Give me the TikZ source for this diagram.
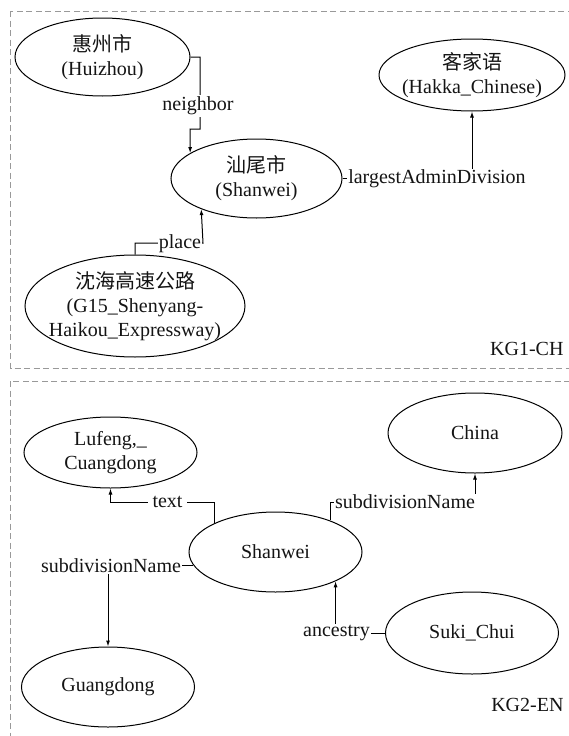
\documentclass[tikz,border=0pt]{standalone}
\usepackage{fontspec}
\setmainfont{Liberation Serif}
\newfontfamily\cjk{Noto Sans CJK SC}
\usetikzlibrary{shapes.geometric,arrows.meta}
\begin{document}
\begin{tikzpicture}[x=1pt,y=-1pt,
  every node/.style={font=\fontsize{20}{24}\selectfont, text=black!92},
  ent/.style={ellipse, draw=black, line width=1pt, inner sep=-40pt, align=center},
  lbl/.style={fill=white, inner sep=1pt},
  arr/.style={draw=black, line width=1pt, -{Latex[length=6pt,width=4pt]}},
  frame/.style={draw=black!40, dash pattern=on 6pt off 3.5pt, line width=0.9pt}]
\useasboundingbox (0,0) rectangle (569,736);
\draw[frame] (10.5,11) rectangle (600,368);
\draw[frame] (10.5,381) rectangle (600,760);

% KG1-CH
\node[ent, minimum width=175pt, minimum height=78pt] (hz) at (102.5,57) {{\cjk 惠州市}\\(Huizhou)};
\node[ent, minimum width=171pt, minimum height=79pt] (sw1) at (256.5,178.5) {{\cjk 汕尾市}\\(Shanwei)};
\node[ent, minimum width=186pt, minimum height=72pt] (hk) at (472,75) {{\cjk 客家语}\\(Hakka\_Chinese)};
\node[ent, minimum width=220pt, minimum height=102pt] (g15) at (135,306) {{\cjk 沈海高速公路}\\(G15\_Shenyang-\\Haikou\_Expressway)};

\coordinate (nb1) at (200,129);
\coordinate (nb2) at (190,129);
\coordinate (pl) at (203,243);

\draw[arr] (hz.east) -| (nb1) -- (nb2) -- (sw1.159.5);
\node[lbl, inner ysep=2pt] (lnb) at (198,106) {neighbor};
\draw[arr] (sw1.east) -| (hk.south);
\node[lbl] (lla) at (437,179) {largestAdminDivision};
\draw[arr] (g15.north) |- (pl) -- (sw1.209.9);
\node[lbl] (lpl) at (180,244) {place};

\node[anchor=east] (kg1) at (567,349) {KG1-CH};

% KG2-EN
\node[ent, minimum width=173pt, minimum height=71pt] (luf) at (110.5,452.5) {Lufeng,\_\\Cuangdong};
\node[ent, minimum width=174pt, minimum height=80pt] (china) at (475,433) {China};
\node[ent, minimum width=173pt, minimum height=80pt] (sw2) at (275.5,552) {Shanwei};
\node[ent, minimum width=173pt, minimum height=82pt] (suki) at (472,633) {Suki\_Chui};
\node[ent, minimum width=173pt, minimum height=80pt] (gd) at (108,687) {Guangdong};

\coordinate (tx) at (110.5,502);
\coordinate (sd1) at (475,502);

\draw[arr] (sw2.155.45) |- (tx) -- (luf.south);
\node[lbl, inner xsep=5pt] (ltx) at (167.5,502) {text};
\draw[arr] (sw2.30.41) |- (sd1) -- (china.south);
\node[lbl] (lsd1) at (405,502) {subdivisionName};
\draw[arr] (sw2.189.8) -| (gd.north);
\node[lbl] (lsd2) at (111,566) {subdivisionName};
\draw[arr] (suki.west) -| (sw2.334.7);
\node[lbl] (lan) at (336.5,633) {ancestry};

\node[anchor=east] (kg2) at (567,705) {KG2-EN};
\end{tikzpicture}
\end{document}
